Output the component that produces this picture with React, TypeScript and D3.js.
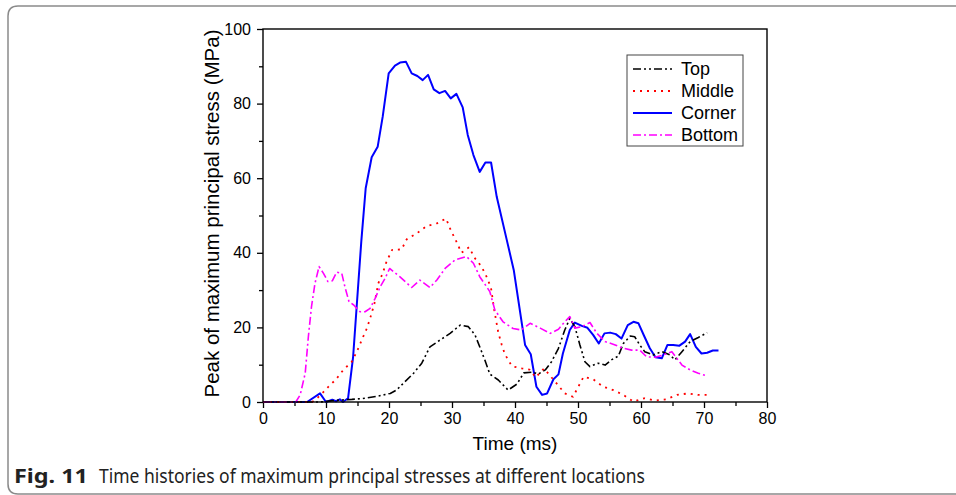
import React, { useEffect, useRef } from "react";
import * as d3 from "d3";

const xTicks = [0, 10, 20, 30, 40, 50, 60, 70, 80];
const xMinorTicks = [5, 15, 25, 35, 45, 55, 65, 75];
const yTicks = [0, 20, 40, 60, 80, 100];
const yMinorTicks = [10, 30, 50, 70, 90];

const topT = [0, 9, 12, 14.1, 16.2, 18.3, 20.2, 21.2, 22.5, 23.9, 25.2, 26.5, 28.1, 29.7, 31.3, 32.6, 33.65, 34.4, 35.2, 36.0, 37.35, 38.9, 40.3, 41.4, 42.8, 43.7, 44.8, 45.8, 46.9, 47.9, 48.7, 49.5, 50.3, 51.1, 51.9, 53.2, 54.3, 55.3, 56.4, 57.2, 58.3, 59.0, 59.8, 60.6, 61.9, 63.3, 64.6, 65.4, 66.5, 67.8, 69.1, 70.5];
const topV = [0, 0, 0.5, 0.7, 1.0, 1.6, 2.3, 3.2, 5.4, 7.7, 10.4, 14.8, 16.6, 18.4, 20.6, 20.2, 18.0, 14.8, 11.3, 7.5, 5.9, 3.2, 4.8, 7.8, 8.0, 7.5, 8.6, 10.8, 14.4, 19.3, 22.4, 20.2, 15.3, 10.8, 9.5, 10.4, 9.9, 11.3, 12.3, 15.7, 17.7, 17.5, 15.3, 13.5, 12.6, 13.5, 12.6, 11.3, 13.5, 16.2, 17.3, 18.6];

const middleT = [0, 7.8, 8.7, 9.5, 10.4, 11.6, 12.75, 14.1, 15.0, 15.8, 16.5, 17.0, 17.7, 18.3, 19.0, 19.6, 20.5, 22.0, 22.8, 24.4, 26.0, 27.6, 29.05, 29.8, 30.7, 31.5, 32.7, 33.65, 34.7, 35.6, 36.2, 36.7, 37.35, 37.9, 38.4, 39.5, 41.1, 42.3, 43.3, 44.6, 46.6, 47.9, 49.2, 50.05, 50.9, 52.4, 54.0, 55.6, 57.2, 58.8, 60.5, 62.2, 64.0, 65.7, 67.5, 69.1, 71.0];
const middleV = [0, 0, 1.2, 2.5, 4.1, 6.1, 8.6, 10.8, 13.9, 17.1, 19.8, 22.4, 26.5, 31.8, 34.5, 37.6, 40.8, 40.9, 43.6, 45.2, 47.2, 47.9, 49.2, 46.1, 43.0, 40.0, 41.5, 38.5, 36.3, 33.2, 30.5, 24.7, 18.6, 15.3, 12.8, 9.6, 9.0, 8.7, 6.6, 9.0, 5.0, 2.3, 1.4, 4.1, 6.8, 6.1, 4.1, 3.2, 1.9, 0.1, 1.0, 0.4, 0.7, 1.9, 2.3, 1.9, 1.9];

const cornerT = [0, 7, 9.05, 10, 11, 11.6, 12.2, 12.7, 13.5, 14.3, 15.6, 16.3, 17.25, 18.2, 19.0, 19.95, 20.95, 21.75, 22.7, 23.6, 24.5, 25.35, 26.2, 27.1, 28.0, 28.9, 29.8, 30.7, 31.7, 32.5, 33.4, 34.4, 35.3, 36.2, 37.1, 38.7, 39.8, 41.6, 42.5, 43.4, 44.3, 45.1, 46.1, 46.9, 47.6, 48.7, 49.5, 50.6, 51.5, 52.4, 53.3, 54.2, 55.1, 56.0, 56.9, 57.9, 58.8, 59.6, 60.5, 61.4, 62.3, 63.3, 64.2, 65.1, 66.1, 67.0, 67.8, 68.7, 69.6, 70.5, 71.4, 72.3];
const cornerV = [0, 0, 2.3, 0, 0.6, 0.2, 0.7, 0, 1, 12, 43, 57.3, 65.6, 68.4, 76.5, 88.1, 90.2, 91, 91.2, 88.1, 87.4, 86.3, 87.7, 83.8, 82.8, 83.4, 81.4, 82.6, 79, 71.6, 66.2, 61.7, 64.2, 64.2, 55, 43.4, 35.4, 15.3, 12.8, 4.1, 1.9, 2.3, 6.1, 7.4, 13, 19.3, 21.3, 20.4, 19.9, 18, 15.7, 18.4, 18.6, 18.2, 17, 20.6, 21.5, 21.1, 17.7, 14.4, 12, 11.7, 15.3, 15.3, 15.1, 16.2, 18.2, 14.8, 13, 13.2, 13.8, 13.8];

const bottomT = [0, 5.2, 5.9, 6.7, 7.2, 7.7, 8.25, 8.9, 9.6, 10.3, 11.0, 11.7, 12.5, 13.0, 13.65, 14.4, 15.4, 16.2, 17.0, 17.8, 18.6, 19.4, 20.1, 21.7, 23.6, 24.9, 26.5, 27.6, 28.9, 30.5, 32.3, 33.4, 34.4, 35.5, 36.0, 36.8, 38.1, 39.7, 41.0, 42.4, 44.0, 45.6, 46.9, 47.9, 48.7, 49.5, 50.6, 51.9, 53.0, 54.3, 55.9, 57.2, 58.5, 59.8, 60.9, 62.2, 63.5, 64.9, 65.7, 66.5, 67.8, 69.1, 70.5];
const bottomV = [0, 0, 1.9, 7.7, 17.5, 25.6, 31.8, 36.3, 34.5, 32.3, 32.5, 34.8, 34.5, 30.9, 26.9, 26.0, 24.2, 24.2, 25.1, 27.8, 30.9, 33.2, 35.8, 33.6, 30.7, 32.7, 30.7, 32.7, 35.8, 38.1, 39.0, 37.2, 33.6, 30.9, 29.6, 24.7, 21.5, 19.7, 19.3, 21.1, 19.8, 18.4, 19.5, 21.5, 22.9, 19.8, 20.2, 21.3, 18.4, 16.2, 15.3, 14.4, 13.9, 13.9, 12.1, 12.0, 12.6, 13.5, 11.7, 9.9, 8.6, 7.7, 7.0];

const seriesNames = ["Top", "Middle", "Corner", "Bottom"];
const seriesColors = ["#000000", "#ff0000", "#0000ff", "#ff00ff"];
const seriesDash = ["8,3,2,3,2,3", "2,5", "", "8,3,2,3"];
const seriesWidth = [1.6, 1.8, 2, 1.6];

const FONT = "'Liberation Sans', Arial, sans-serif";

export default function App() {
  const ref = useRef<SVGSVGElement>(null);

  useEffect(() => {
    const svg = d3.select(ref.current);
    svg.selectAll("*").remove();

    const left = 263, right = 767, top = 29, bottom = 402;
    const x = d3.scaleLinear().domain([0, 80]).range([left, right]);
    const y = d3.scaleLinear().domain([0, 100]).range([bottom, top]);

    // outer figure frame
    svg.append("path")
      .attr("d", "M 960 6 H 18 Q 8 6 8 16 V 484 Q 8 494 18 494 H 960")
      .attr("fill", "none")
      .attr("stroke", "#8a8a8a")
      .attr("stroke-width", 1.5);

    const g = svg.append("g");

    const xAxis = d3.axisBottom(x).tickValues(xTicks).tickSize(6).tickSizeOuter(0).tickPadding(5);
    const xAxisMinor = d3.axisBottom(x).tickValues(xMinorTicks).tickSize(4).tickSizeOuter(0).tickFormat(() => "");
    const yAxis = d3.axisLeft(y).tickValues(yTicks).tickSize(6).tickSizeOuter(0).tickPadding(6);
    const yAxisMinor = d3.axisLeft(y).tickValues(yMinorTicks).tickSize(4).tickSizeOuter(0).tickFormat(() => "");

    const styleAxis = (sel: any) => {
      sel.selectAll("path.domain").remove();
      sel.selectAll("line").attr("stroke", "#000").attr("stroke-width", 1.3);
      sel.selectAll("text").attr("font-family", FONT).attr("font-size", 16).attr("fill", "#000");
    };

    g.append("g").attr("transform", `translate(0,${bottom})`).call(xAxis).call(styleAxis);
    g.append("g").attr("transform", `translate(0,${bottom})`).call(xAxisMinor).call(styleAxis);
    g.append("g").attr("transform", `translate(${left},0)`).call(yAxis).call(styleAxis);
    g.append("g").attr("transform", `translate(${left},0)`).call(yAxisMinor).call(styleAxis);

    const data = [
      d3.zip(topT, topV),
      d3.zip(middleT, middleV),
      d3.zip(cornerT, cornerV),
      d3.zip(bottomT, bottomV),
    ];
    const line = d3.line<number[]>().x((d) => x(d[0])).y((d) => y(d[1]));
    const drawOrder = [2, 0, 1, 3];
    drawOrder.forEach((i) => {
      g.append("path")
        .attr("d", line(data[i] as number[][]) as string)
        .attr("fill", "none")
        .attr("stroke", seriesColors[i])
        .attr("stroke-width", seriesWidth[i])
        .attr("stroke-dasharray", seriesDash[i] || null)
        .attr("stroke-linejoin", "round");
    });

    g.append("rect")
      .attr("x", left).attr("y", top)
      .attr("width", right - left).attr("height", bottom - top)
      .attr("fill", "none").attr("stroke", "#000").attr("stroke-width", 1.4);

    g.append("text")
      .attr("x", (left + right) / 2).attr("y", 450)
      .attr("text-anchor", "middle")
      .attr("font-family", FONT).attr("font-size", 19)
      .text("Time (ms)");

    g.append("text")
      .attr("transform", `translate(219,${(top + bottom) / 2 - 2}) rotate(-90)`)
      .attr("text-anchor", "middle")
      .attr("font-family", FONT).attr("font-size", 19.5)
      .attr("textLength", 368).attr("lengthAdjust", "spacingAndGlyphs")
      .text("Peak of maximum principal stress (MPa)");

    const lg = g.append("g");
    lg.append("rect")
      .attr("x", 627).attr("y", 55).attr("width", 116).attr("height", 91)
      .attr("fill", "#fff").attr("stroke", "#444").attr("stroke-width", 1);
    seriesNames.forEach((name, i) => {
      const ry = 69 + i * 22;
      lg.append("line")
        .attr("x1", 633).attr("x2", 672).attr("y1", ry).attr("y2", ry)
        .attr("stroke", seriesColors[i])
        .attr("stroke-width", seriesWidth[i])
        .attr("stroke-dasharray", seriesDash[i] || null);
      lg.append("text")
        .attr("x", 681).attr("y", ry + 6)
        .attr("font-family", FONT).attr("font-size", 18)
        .text(name);
    });

    svg.append("text")
      .attr("x", 14).attr("y", 483)
      .attr("font-family", "'Noto Sans', 'Open Sans', sans-serif")
      .attr("font-weight", "bold").attr("font-size", 20)
      .attr("textLength", 74).attr("lengthAdjust", "spacingAndGlyphs")
      .attr("fill", "#222")
      .text("Fig. 11");
    svg.append("text")
      .attr("x", 99).attr("y", 483)
      .attr("font-family", "'Noto Sans', 'Open Sans', sans-serif")
      .attr("font-size", 20)
      .attr("textLength", 546).attr("lengthAdjust", "spacingAndGlyphs")
      .attr("fill", "#222")
      .text("Time histories of maximum principal stresses at different locations");
  }, []);

  return (
    <svg
      ref={ref}
      width={956}
      height={495}
      style={{ position: "absolute", left: 0, top: 0, background: "#fff" }}
    />
  );
}
